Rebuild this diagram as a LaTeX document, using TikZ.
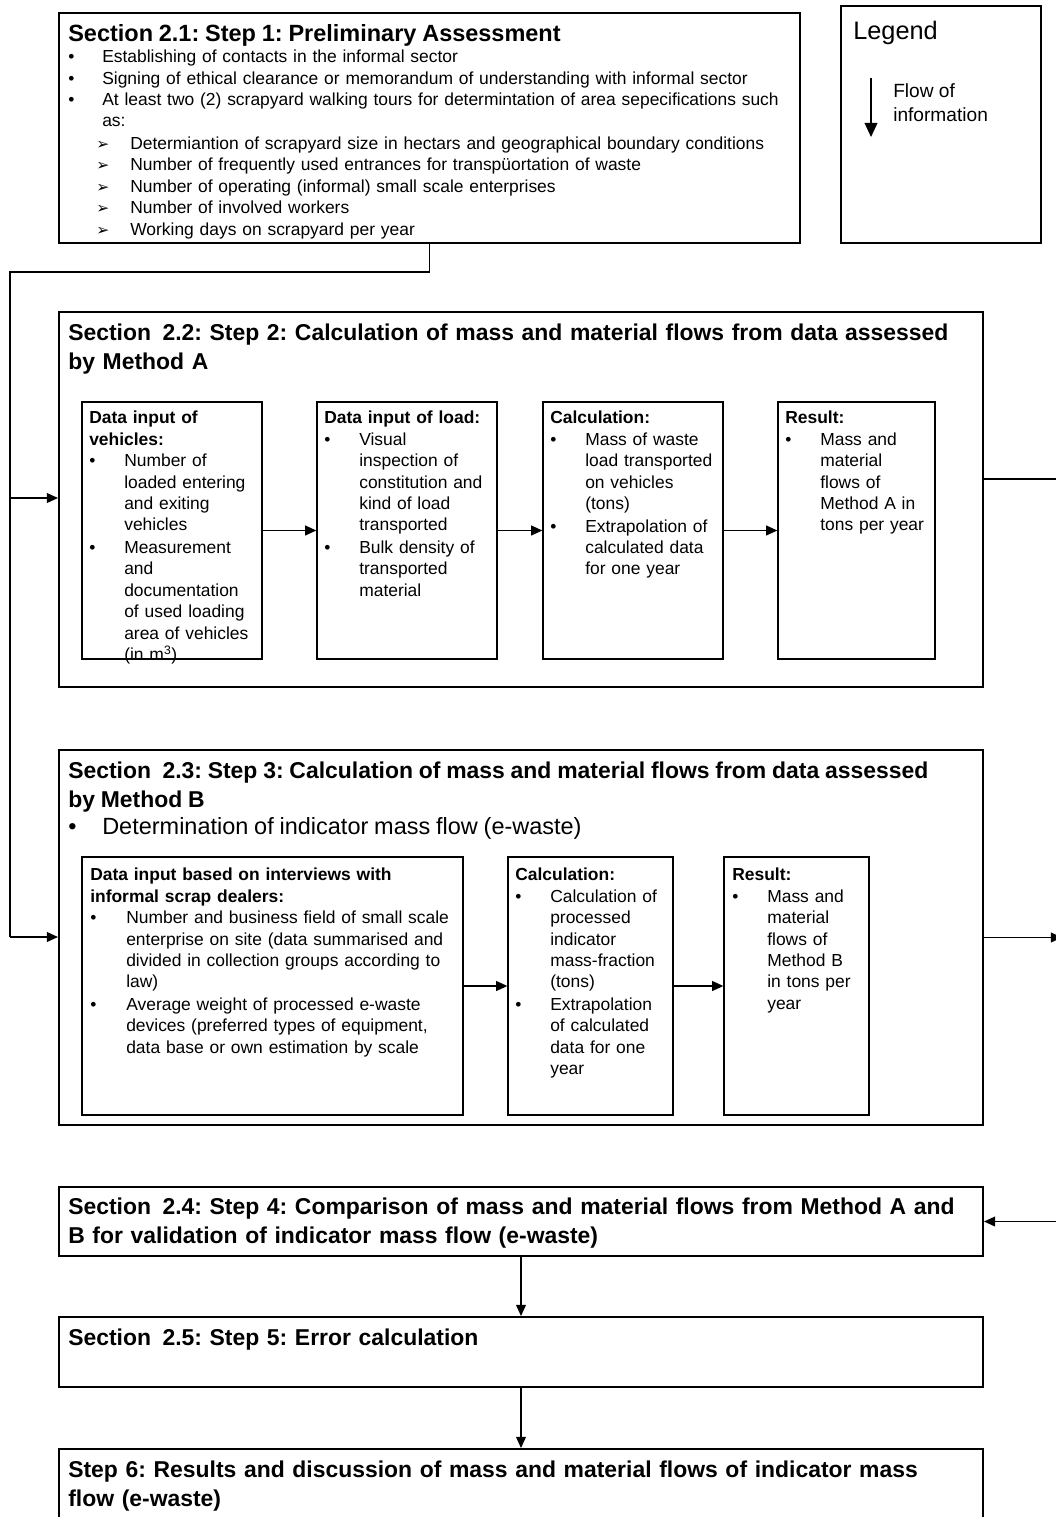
\documentclass[tikz,border=0pt]{standalone}
\usepackage{fontspec}
\setmainfont{Liberation Sans}
\newfontfamily\symfont{DejaVu Sans}
\usetikzlibrary{fit,arrows.meta}
\frenchspacing
\lineskip=0pt

\newcommand{\titlefont}{\fontsize{16.3}{20.2}\selectfont\bfseries}
\newcommand{\bodyfont}{\fontsize{12.4}{15.2}\selectfont}
\newcommand{\bpt}[2][0.875cm]{\par\noindent\hbox to #1{\strut\textbullet\hfil}\parbox[t]{20cm}{\raggedright\strut #2\strut}}
\newcommand{\apt}[1]{\par\noindent\hbox to 1.55cm{\strut\hspace{0.7cm}{\symfont\fontsize{11}{12}\selectfont ➢}\hfil}\parbox[t]{20cm}{\raggedright\strut #1\strut}}

\tikzset{
  stepframe/.style = {draw, line width = 1.4pt, inner sep = 0pt},
  inframe/.style = {draw, line width = 0.9pt, inner sep = 0pt},
  boxtext/.style = {anchor = north west, inner sep = 0pt, align = left, font = \bodyfont},
  flowline/.style = {line width = 1.1pt},
  flowarrow/.style = {-{Triangle[length = 8pt, width = 7pt]}, line width = 1.1pt},
}

\begin{document}
\begin{tikzpicture}[x = 0.025cm, y = -0.025cm]
    \useasboundingbox (0, 0) rectangle (1056, 1517);
    \clip (0, 0) rectangle (1056, 1517);

    % Boxes
    \node [stepframe, fit = {(59, 13) (800, 243)}] (s1) {};
    \node [inframe, fit = {(841, 6) (1041, 243)}] (leg) {};
    \node [stepframe, fit = {(59, 312) (983, 687)}] (s2) {};
    \node [inframe, fit = {(82, 402) (262, 659)}] (a1) {};
    \node [inframe, fit = {(317, 402) (497, 659)}] (a2) {};
    \node [inframe, fit = {(543, 402) (723, 659)}] (a3) {};
    \node [inframe, fit = {(778, 402) (935, 659)}] (a4) {};
    \node [stepframe, fit = {(59, 750) (983, 1125)}] (s3) {};
    \node [inframe, fit = {(82, 857) (463, 1115)}] (b1) {};
    \node [inframe, fit = {(508, 857) (673, 1115)}] (b2) {};
    \node [inframe, fit = {(724, 857) (869, 1115)}] (b3) {};
    \node [stepframe, fit = {(59, 1187) (983, 1256)}] (s4) {};
    \node [stepframe, fit = {(59, 1317) (983, 1387)}] (s5) {};
    \node [stepframe, fit = {(59, 1449) (983, 1560)}] (s6) {};

    % Texts
    \node [boxtext, text width = 18.4cm] (s1txt) at (68, 24) {%
        {\fontsize{16.7}{20.2}\selectfont\bfseries Section 2.1: Step 1: Preliminary Assessment\par}
        \bpt[0.85cm]{Establishing of contacts in the informal sector}
        \bpt[0.85cm]{Signing of ethical clearance or memorandum of understanding with informal sector}
        \bpt[0.85cm]{At least two (2) scrapyard walking tours for determintation of area sepecifications such\newline as:}
        \apt{Determiantion of scrapyard size in hectars and geographical boundary conditions}
        \apt{Number of frequently used entrances for transpüortation of waste}
        \apt{Number of operating (informal) small scale enterprises}
        \apt{Number of involved workers}
        \apt{Working days on scrapyard per year}};
    \node [boxtext, font = \fontsize{18}{22}\selectfont] (legtxt) at (853, 21) {Legend};
    \node [boxtext, font = \fontsize{13.6}{17}\selectfont] (legflow) at (893, 83) {Flow of\\ information};
    \coordinate (legtop) at (871, 78);
    \coordinate (legbot) at (871, 137);

    \node [boxtext, text width = 22.9cm, font = \titlefont] (s2txt) at (68, 324) {%
        Section\hspace{0.5em}2.2: Step 2: Calculation of mass and material flows from data assessed\\ by Method A};
    \node [boxtext, text width = 4.4cm] (a1txt) at (89, 411) {%
        {\bfseries Data input of\newline vehicles:}
        \bpt{Number of\newline loaded entering\newline and exiting\newline vehicles}
        \bpt{Measurement\newline and\newline documentation\newline of used loading\newline area of vehicles\newline (in m\textsuperscript{3})}};
    \node [boxtext, text width = 4.4cm] (a2txt) at (324, 411) {%
        {\bfseries Data input of load:}
        \bpt{Visual\newline inspection of\newline constitution and\newline kind of load\newline transported}
        \bpt{Bulk density of\newline transported\newline material}};
    \node [boxtext, text width = 4.4cm] (a3txt) at (550, 411) {%
        {\bfseries Calculation:}
        \bpt{Mass of waste\newline load transported\newline on vehicles\newline (tons)}
        \bpt{Extrapolation of\newline calculated data\newline for one year}};
    \node [boxtext, text width = 4cm] (a4txt) at (785, 411) {%
        {\bfseries Result:}
        \bpt{Mass and\newline material\newline flows of\newline Method A in\newline tons per year}};

    \node [boxtext, text width = 22.9cm] (s3txt) at (68, 762) {%
        {\titlefont Section\hspace{0.5em}2.3: Step 3: Calculation of mass and material flows from data assessed\newline by Method B\par}
        \fontsize{16.7}{21.5}\selectfont
        \bpt[0.85cm]{Determination of indicator mass flow (e-waste)}};
    \node [boxtext, text width = 9.4cm] (b1txt) at (90, 868) {%
        {\bfseries Data input based on interviews with\newline informal scrap dealers:}
        \bpt[0.9cm]{Number and business field of small scale\newline enterprise on site (data summarised and\newline divided in collection groups according to\newline law)}
        \bpt[0.9cm]{Average weight of processed e-waste\newline devices (preferred types of equipment,\newline data base or own estimation by scale}};
    \node [boxtext, text width = 4.2cm] (b2txt) at (515, 868) {%
        {\bfseries Calculation:}
        \bpt{Calculation of\newline processed\newline indicator\newline mass-fraction\newline (tons)}
        \bpt{Extrapolation\newline of calculated\newline data for one\newline year}};
    \node [boxtext, text width = 3.7cm] (b3txt) at (732, 868) {%
        {\bfseries Result:}
        \bpt{Mass and\newline material\newline flows of\newline Method B\newline in tons per\newline year}};

    \node [boxtext, text width = 22.9cm, font = \titlefont] (s4txt) at (68, 1198) {%
        Section\hspace{0.5em}2.4: Step 4: Comparison of mass and material flows from Method A and\\ B for validation of indicator mass flow (e-waste)};
    \node [boxtext, text width = 22.9cm, font = \titlefont] (s5txt) at (68, 1329) {%
        Section\hspace{0.5em}2.5: Step 5: Error calculation};
    \node [boxtext, text width = 22.9cm, font = \titlefont] (s6txt) at (68, 1461) {%
        Step 6: Results and discussion of mass and material flows of indicator mass\\ flow (e-waste)};

    % Connectors
    \coordinate (lbend) at (10, 272);
    \coordinate (lmid) at (10, 498);
    \coordinate (lend) at (10, 937);
    \coordinate (rtop) at (1062, 479);
    \coordinate (rend) at (1062, 1221);

    \draw [flowline] (s1.south) |- (lbend) -- (lend);
    \draw [flowarrow] (lmid) -- (lmid -| s2.west);
    \draw [flowarrow] (lend) -- (lend -| s3.west);

    \draw [flowarrow] (a1) -- (a2);
    \draw [flowarrow] (a2) -- (a3);
    \draw [flowarrow] (a3) -- (a4);
    \draw [flowarrow] (b1) -- (b2);
    \draw [flowarrow] (b2) -- (b3);

    \draw [flowline] (rtop -| s2.east) -- (rtop) -- (rend);
    \draw [flowarrow] (s3.east) -- (s3.east -| rtop);
    \draw [flowarrow] (s4.east -| rtop) -- (s4.east);

    \draw [flowarrow] (s4) -- (s5);
    \draw [flowarrow] (s5) -- (s6);
    \draw [-{Triangle[length = 10pt, width = 9pt]}, line width = 1.3pt] (legtop) -- (legbot);
\end{tikzpicture}
\end{document}
